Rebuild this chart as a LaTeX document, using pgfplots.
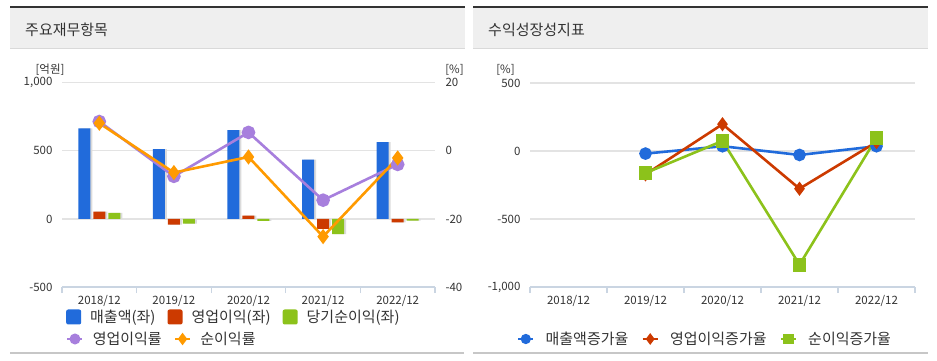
\documentclass[border=0pt]{standalone}
\usepackage{fontspec}
\setmainfont{Noto Sans CJK KR}
\usepackage{pgfplots}
\pgfplotsset{compat=1.18}

\definecolor{cBlue}{HTML}{216BDB}
\definecolor{cRed}{HTML}{CC3A00}
\definecolor{cGreen}{HTML}{8CC21B}
\definecolor{cPurple}{HTML}{A77FDD}
\definecolor{cOrange}{HTML}{FF9A00}
\definecolor{axcol}{HTML}{CAD5E2}
\definecolor{gridc}{HTML}{E3E3E3}
\definecolor{txt}{HTML}{333333}
\definecolor{titlebg}{HTML}{EFEFEF}
\definecolor{topbar}{HTML}{333333}

\pgfplotsset{
  sqleg/.style={legend image code/.code={\fill[##1, rounded corners=2pt] (0pt,-7.5pt) rectangle (15pt,7.5pt);}},
  lnleg/.style={legend image code/.code={\draw[##1, mark repeat=2, mark phase=2, mark options={scale=0.75}] plot coordinates {(0pt,0pt) (7.5pt,0pt) (15pt,0pt)};}},
  base/.style={
    scale only axis, xmin=-0.5, xmax=4.5,
    major tick length=0pt,
    ticklabel style={font=\fontsize{11.5}{13}\selectfont, text=txt},
  },
  catx/.style={
    axis lines*=left,
    x axis line style={axcol, line width=1.3pt},
    y axis line style={draw=none},
    xtick={0,1,2,3,4},
    xticklabels={2018/12,2019/12,2020/12,2021/12,2022/12},
    extra x ticks={-0.5,0.5,1.5,2.5,3.5,4.5},
    extra x tick labels={},
    extra x tick style={major tick length=6pt, tick align=outside, tick style={axcol, line width=1.3pt}},
    xticklabel style={yshift=-5pt},
    yticklabel style={xshift=-6pt},
    ymajorgrids, grid style={gridc, line width=1.3pt},
  },
  legsty/.style={
    legend style={draw=none, fill=none, inner sep=0pt,
      font=\fontsize{15}{18}\selectfont\color{txt},
      nodes={inner sep=0pt},
      /tikz/every odd column/.append style={column sep=9pt},
      /tikz/every even column/.append style={column sep=12pt}},
    legend columns=-1,
  },
}

\pgfplotstableread{
x sales opinc netinc opm npm
0 664  54   44   8.6  8.1
1 513 -42  -35  -7.5 -6.4
2 651  24  -15   5.4 -1.8
3 435 -74 -111 -14.5 -25.2
4 563 -25  -12  -4.0 -2.1
}\fin

\pgfplotstableread{
x sg og ng
1 -19 -172 -162
2  35  197   74
3 -29 -277 -836
4  35   66   96
}\growth

\begin{document}
\begin{tikzpicture}
\path[use as bounding box] (0pt,0pt) rectangle (937pt,360pt);
% panel decorations
\fill[titlebg] (10pt,312pt) rectangle (465pt,352pt);
\fill[titlebg] (473pt,312pt) rectangle (928pt,352pt);
\fill[topbar] (10pt,352pt) rectangle (465pt,354.5pt);
\fill[topbar] (473pt,352pt) rectangle (928pt,354.5pt);
\draw[black!15, line width=1pt] (10pt,312pt) -- (465pt,312pt);
\draw[black!15, line width=1pt] (473pt,312pt) -- (928pt,312pt);
\fill[black!22] (10pt,6pt) rectangle (464pt,8pt);
\fill[black!22] (473pt,6pt) rectangle (928pt,8pt);
\node[anchor=west, inner sep=0pt, text=txt, font=\fontsize{15}{18}\selectfont] at (25pt,330pt) {주요재무항목};
\node[anchor=west, inner sep=0pt, text=txt, font=\fontsize{15}{18}\selectfont] at (488pt,330pt) {수익성장성지표};
\node[inner sep=0pt, text=txt, font=\fontsize{11.5}{13}\selectfont] at (50pt,290pt) {[억원]};
\node[inner sep=0pt, text=txt, font=\fontsize{11.5}{13}\selectfont] at (454.5pt,290pt) {[\%]};
\node[inner sep=0pt, text=txt, font=\fontsize{11.5}{13}\selectfont] at (505.5pt,290pt) {[\%]};

% ---- left chart: bars ----
\begin{axis}[base, catx, legsty,
  at={(62pt,73pt)}, anchor=south west, width=373pt, height=204.3pt,
  ymin=-500, ymax=1000, ytick={-500,0,500,1000}, yticklabels={-500,0,500,{1,000}},
  legend style={at={(0.0107,-0.1468)}, anchor=west},
  legend entries={매출액(좌),영업이익(좌),당기순이익(좌)},
]
\addlegendimage{sqleg, fill=cBlue, draw=none}
\addlegendimage{sqleg, fill=cRed, draw=none}
\addlegendimage{sqleg, fill=cGreen, draw=none}
\addplot[forget plot, ybar, bar width=12pt, bar shift=-13pt, fill=black!14, draw=none] table[x=x,y=sales] {\fin};
\addplot[forget plot, ybar, bar width=12pt, bar shift=2pt, fill=black!14, draw=none] table[x=x,y=opinc] {\fin};
\addplot[forget plot, ybar, bar width=12pt, bar shift=17pt, fill=black!14, draw=none] table[x=x,y=netinc] {\fin};
\addplot[forget plot, ybar, bar width=12pt, bar shift=-15pt, fill=cBlue, draw=none] table[x=x,y=sales] {\fin};
\addplot[forget plot, ybar, bar width=12pt, bar shift=0pt, fill=cRed, draw=none] table[x=x,y=opinc] {\fin};
\addplot[forget plot, ybar, bar width=12pt, bar shift=15pt, fill=cGreen, draw=none] table[x=x,y=netinc] {\fin};
\end{axis}

% ---- left chart: lines on right axis ----
\begin{axis}[base, legsty,
  at={(62pt,73pt)}, anchor=south west, width=373pt, height=204.3pt,
  ymin=-40, ymax=20, ytick={-40,-20,0,20}, yticklabels={-40,-20,0,20},
  axis y line*=right, axis x line=none, y axis line style={draw=none},
  xtick=\empty,
  yticklabel style={xshift=7pt},
  clip=false,
  legend style={at={(0.0107,-0.2545)}, anchor=west},
  legend entries={영업이익률,순이익률},
]
\addplot[lnleg, cPurple, line width=2.6pt, mark=*, mark size=5.5pt] table[x=x,y=opm] {\fin};
\addplot[lnleg, cOrange, line width=2.6pt, mark=diamond*, mark size=5.5pt] table[x=x,y=npm] {\fin};
\end{axis}

% ---- right chart ----
\begin{axis}[base, catx, legsty,
  at={(530pt,73pt)}, anchor=south west, width=385pt, height=204pt,
  ymin=-1000, ymax=500, ytick={-1000,-500,0,500}, yticklabels={{-1,000},-500,0,500},
  clip=false,
  legend style={at={(0.452,-0.2549)}, anchor=center,
    /tikz/every even column/.append style={column sep=13pt},
    /tikz/every odd column/.append style={column sep=11pt}},
  legend entries={매출액증가율,영업이익증가율,순이익증가율},
]
\addplot[lnleg, cBlue, line width=2.6pt, mark=*, mark size=5pt] table[x=x,y=sg] {\growth};
\addplot[lnleg, cRed, line width=2.6pt, mark=diamond*, mark size=5pt] table[x=x,y=og] {\growth};
\addplot[lnleg, cGreen, line width=2.6pt, mark=square*, mark size=5.5pt] table[x=x,y=ng] {\growth};
\end{axis}
\end{tikzpicture}
\end{document}
